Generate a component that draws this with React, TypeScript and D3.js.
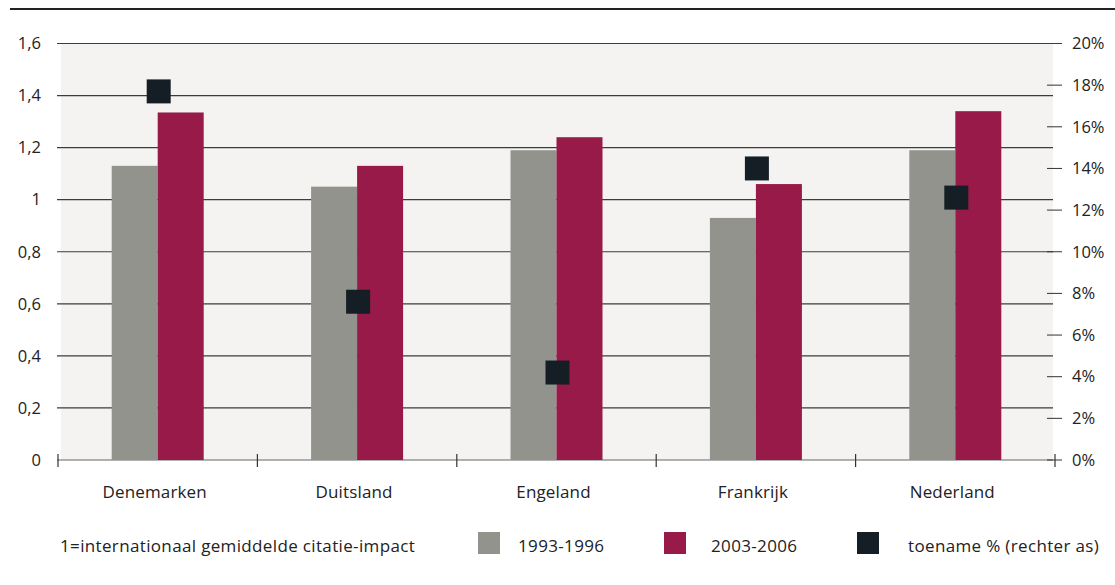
import React from "react";
import * as d3 from "d3";

const categories = ["Denemarken", "Duitsland", "Engeland", "Frankrijk", "Nederland"];
const series1993 = [1.13, 1.05, 1.19, 0.93, 1.19];
const series2003 = [1.335, 1.13, 1.24, 1.06, 1.34];
const toename = [17.7, 7.6, 4.2, 14.0, 12.6];
const leftTicks = [0, 0.2, 0.4, 0.6, 0.8, 1, 1.2, 1.4, 1.6];
const rightTicks = [0, 2, 4, 6, 8, 10, 12, 14, 16, 18, 20];
const legendNote = "1=internationaal gemiddelde citatie-impact";
const legendLabels = ["1993-1996", "2003-2006", "toename % (rechter as)"];

const W = 1115;
const H = 585;
const colors = { gray: "#92938d", red: "#971a48", dark: "#141e24", bg: "#f4f3f1", grid: "#3a3d40" };
const font = "'Open Sans', Lato, sans-serif";

export default function App() {
  const x0 = 58, x1 = 1055;
  const yTop = 43.5, yBot = 460;
  const x = d3.scaleBand<string>().domain(categories).range([x0, x1]);
  const y = d3.scaleLinear().domain([0, 1.6]).range([yBot, yTop]);
  const yR = d3.scaleLinear().domain([0, 20]).range([yBot, yTop]);
  const barW = 46;
  const sq = 24;
  const fmt = (v: number) => String(v).replace(".", ",");

  return (
    <svg width={W} height={H} style={{ position: "absolute", left: 0, top: 0, background: "#fff" }} fontFamily={font}>
      <line x1={10} x2={W} y1={9} y2={9} stroke="#222" strokeWidth={2.2} />
      <rect x={61} y={yTop} width={1053 - 61} height={yBot - yTop} fill={colors.bg} />
      {leftTicks.map((t) => (
        <g key={"l" + t}>
          <line x1={57} x2={t === 1.6 ? 1062 : 1053} y1={y(t)} y2={y(t)} stroke={t === 0 ? "#666" : colors.grid} strokeWidth={1.2} />
          <text x={41} y={y(t)} dy="0.35em" textAnchor="end" fontSize={16.5} fill="#222">{fmt(t)}</text>
        </g>
      ))}
      {rightTicks.map((t) => (
        <g key={"r" + t}>
          {t !== 20 && <line x1={1047} x2={1062} y1={yR(t)} y2={yR(t)} stroke="#333" strokeWidth={1} />}
          <text x={1072} y={yR(t)} dy="0.35em" textAnchor="start" fontSize={16.5} fill="#222">{t + "%"}</text>
        </g>
      ))}
      {[...categories.map((c) => x(c)!), x1].map((px, i) => (
        <line key={"t" + i} x1={px} x2={px} y1={454} y2={467} stroke="#333" strokeWidth={1.2} />
      ))}
      {categories.map((c, i) => {
        const cx = x(c)! + x.bandwidth() / 2;
        return (
          <g key={c}>
            <rect x={cx - barW} y={y(series1993[i])} width={barW} height={yBot - y(series1993[i])} fill={colors.gray} />
            <rect x={cx} y={y(series2003[i])} width={barW} height={yBot - y(series2003[i])} fill={colors.red} />
            <rect x={cx - sq / 2 + 1} y={yR(toename[i]) - sq / 2} width={sq} height={sq} fill={colors.dark} />
            <text x={cx - 3} y={498} textAnchor="middle" fontSize={17} letterSpacing={0.15} fill="#222">{c}</text>
          </g>
        );
      })}
      <text x={60} y={552} fontSize={17} letterSpacing={0.35} fill="#222">{legendNote}</text>
      {[colors.gray, colors.red, colors.dark].map((col, i) => {
        const sx = [478, 664, 857][i];
        const tx = [518, 711, 908][i];
        return (
          <g key={"lg" + i}>
            <rect x={sx} y={532} width={22} height={22} fill={col} />
            <text x={tx} y={552} fontSize={17} letterSpacing={0.35} fill="#222">{legendLabels[i]}</text>
          </g>
        );
      })}
    </svg>
  );
}
